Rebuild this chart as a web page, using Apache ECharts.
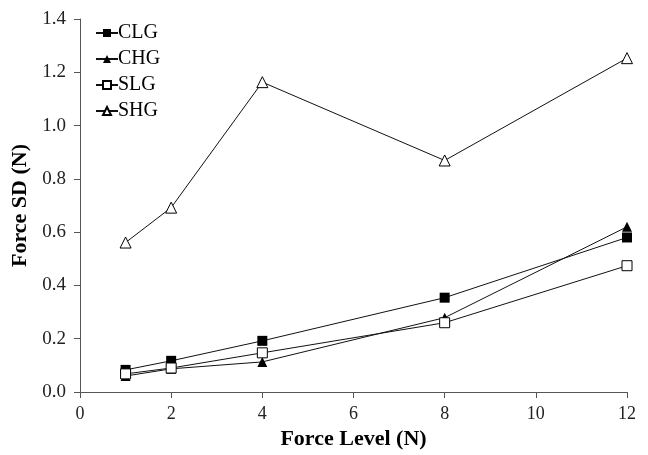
<!DOCTYPE html>
<html><head><meta charset="utf-8">
<script src="https://cdn.jsdelivr.net/npm/echarts@6/dist/echarts.min.js"></script>
<style>html,body{margin:0;padding:0;background:#fff}#c{width:648px;height:455px}</style>
</head><body><div id="c"></div>
<script>
const forceLevels = [1, 2, 4, 8, 12];
const CLG = [0.083, 0.117, 0.192, 0.354, 0.58];
const CHG = [0.06, 0.087, 0.113, 0.279, 0.62];
const SLG = [0.068, 0.09, 0.147, 0.26, 0.474];
const SHG = [0.561, 0.692, 1.163, 0.869, 1.253];
const seriesNames = ['CLG', 'CHG', 'SLG', 'SHG'];
const seriesData = [CLG, CHG, SLG, SHG];
const symbols = ['rect', 'triangle', 'rect', 'triangle'];
const filled = [true, true, false, false];
const sizes = [10, 10, 10, 11];
const font = 'Liberation Serif';
const chart = echarts.init(document.getElementById('c'));
chart.setOption({
  animation: false,
  backgroundColor: '#fff',
  grid: { left: 80, right: 21, top: 19, bottom: 63 },
  legend: {
    orient: 'vertical', left: 90, top: 18, itemGap: 6, itemWidth: 22, itemHeight: 10,
    textStyle: { fontFamily: font, fontSize: 20, color: '#000', padding: [0,0,0,-5] },
    data: seriesNames
  },
  xAxis: {
    type: 'value', min: 0, max: 12, interval: 2,
    name: 'Force Level (N)', nameLocation: 'middle', nameGap: 34,
    nameTextStyle: { fontFamily: font, fontSize: 22, fontWeight: 'bold', color: '#000' },
    axisLine: { lineStyle: { color: '#555', width: 1 } },
    axisTick: { show: true, inside: false, length: 6, lineStyle: { color: '#555' } },
    axisLabel: { fontFamily: font, fontSize: 18, color: '#222', margin: 13 },
    splitLine: { show: false }
  },
  yAxis: {
    type: 'value', min: 0, max: 1.4, interval: 0.2,
    name: 'Force SD (N)', nameLocation: 'middle', nameGap: 48,
    nameTextStyle: { fontFamily: font, fontSize: 22, fontWeight: 'bold', color: '#000' },
    axisLine: { show: true, lineStyle: { color: '#555', width: 1 } },
    axisTick: { show: true, inside: false, length: 6, lineStyle: { color: '#555' } },
    axisLabel: { fontFamily: font, fontSize: 19, color: '#222', margin: 14, formatter: v => v.toFixed(1) },
    splitLine: { show: false }
  },
  series: seriesNames.map((n, i) => ({
    name: n, type: 'line',
    data: forceLevels.map((x, j) => [x, seriesData[i][j]]),
    symbol: symbols[i], symbolSize: sizes[i], showAllSymbol: true,
    lineStyle: { color: '#111', width: 1 },
    itemStyle: { color: filled[i] ? '#000' : '#fff', borderColor: '#000', borderWidth: filled[i] ? 0 : 1 },
    emphasis: { disabled: true }
  }))
});
</script></body></html>
